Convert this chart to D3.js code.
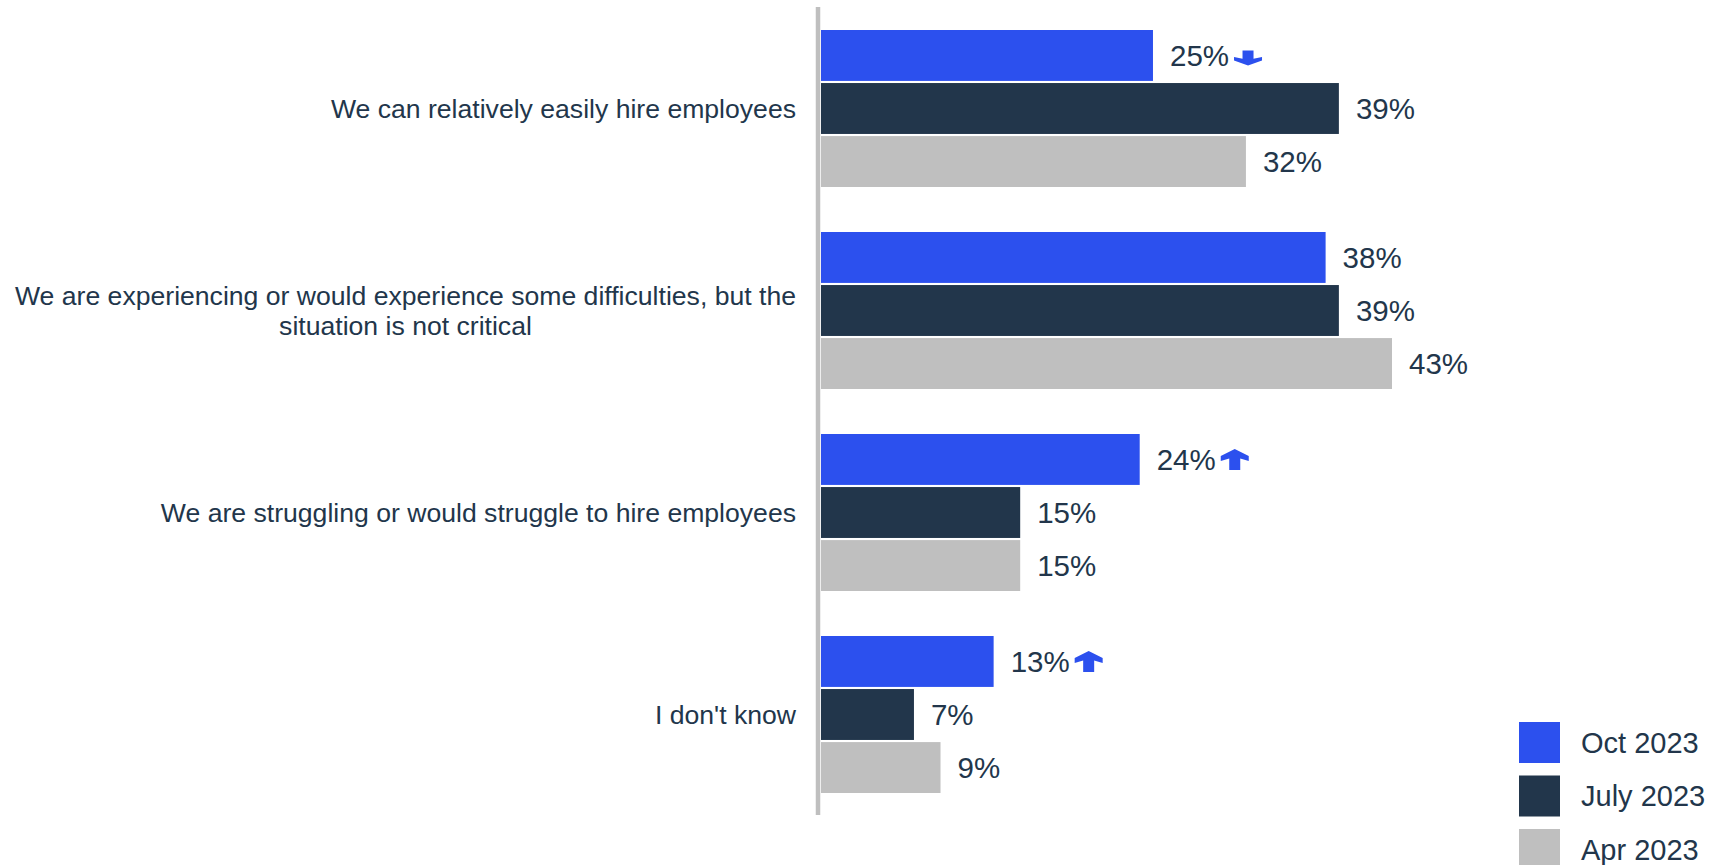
<!DOCTYPE html>
<html>
<head>
<meta charset="utf-8">
<script src="https://cdn.jsdelivr.net/npm/d3@7"></script>
<style>
  html, body { margin: 0; padding: 0; background: #ffffff; }
  svg { display: block; }
  text { font-family: "Liberation Sans", Arial, sans-serif; fill: #22364b; }
</style>
</head>
<body>
<svg id="chart" width="1723" height="865"></svg>
<script>
// Survey answers (one group of bars per answer)
const categories = [
  "We can relatively easily hire employees",
  "We are experiencing or would experience some difficulties, but the\nsituation is not critical",
  "We are struggling or would struggle to hire employees",
  "I don't know"
];
// Survey waves, newest first
const seriesNames = ["Oct 2023", "July 2023", "Apr 2023"];
const oct2023  = [25, 38, 24, 13];
const july2023 = [39, 39, 15, 7];
const apr2023  = [32, 43, 15, 9];
// Change marker on the newest wave: -1 down, 1 up, 0 none
const octTrend = [-1, 0, 1, 1];

const seriesValues = [oct2023, july2023, apr2023];
const colors = ["#2c50ee", "#22364b", "#bfbfbf"];

const svg = d3.select("#chart");

const x = d3.scaleLinear().domain([0, 43]).range([821, 1392]);
const y0 = d3.scaleBand().domain(d3.range(categories.length)).range([30, 793]).paddingInner(0.2228).paddingOuter(0);
const y1 = d3.scaleBand().domain(d3.range(seriesNames.length)).range([0, y0.bandwidth()]).paddingInner(0.04);

// Bars and value labels
categories.forEach((cat, ci) => {
  const g = svg.append("g").attr("transform", `translate(0,${y0(ci)})`);
  seriesValues.forEach((vals, si) => {
    const v = vals[ci];
    const by = y1(si);
    g.append("rect")
      .attr("x", x(0))
      .attr("y", by)
      .attr("width", x(v) - x(0))
      .attr("height", y1.bandwidth())
      .attr("fill", colors[si]);
    const lbl = g.append("text")
      .attr("x", x(v) + 17)
      .attr("y", by + y1.bandwidth() / 2)
      .attr("dy", "0.36em")
      .style("font-size", "29.5px")
      .text(v + "%");
    if (si === 0 && octTrend[ci] !== 0) {
      const endX = x(v) + 17 + lbl.node().getComputedTextLength() + 5;
      const cy = by + y1.bandwidth() / 2;
      const h = 21;
      // upward arrow with a broad chevron head
      const pts = [[14,0],[28,7],[28,12],[19.5,9.5],[19.5,21],[8.5,21],[8.5,9.5],[0,12],[0,7]];
      const dir = octTrend[ci];
      const path = d3.line()(pts.map(([px, py]) => [px, dir > 0 ? py : h - py])) + "Z";
      g.append("path")
        .attr("d", path)
        .attr("fill", colors[0])
        .attr("transform", dir > 0
          ? `translate(${endX},${cy - h / 2})`
          : `translate(${endX},${cy - 5}) scale(1,0.72)`);
    }
  });

  // Category label, right-aligned block, centred lines
  const lines = cat.split("\n");
  const midY = y0(ci) + y0.bandwidth() / 2;
  const lineH = 29.5;
  const t = svg.append("text")
    .attr("text-anchor", "middle")
    .style("font-size", "26.6px");
  lines.forEach((ln, li) => {
    t.append("tspan")
      .attr("y", midY + (li - (lines.length - 1) / 2) * lineH)
      .attr("dy", "0.36em")
      .text(ln);
  });
  let maxW = 0;
  t.selectAll("tspan").each(function() { maxW = Math.max(maxW, this.getComputedTextLength()); });
  t.selectAll("tspan").attr("x", 796 - maxW / 2);
});

// Vertical baseline
svg.append("line")
  .attr("x1", 818).attr("x2", 818)
  .attr("y1", 7).attr("y2", 815)
  .attr("stroke", "#bfbfbf")
  .attr("stroke-width", 4.5);

// Legend
const legend = svg.append("g").attr("transform", "translate(1519,722)");
seriesNames.forEach((name, i) => {
  legend.append("rect")
    .attr("x", 0).attr("y", i * 53.5)
    .attr("width", 41).attr("height", 41)
    .attr("fill", colors[i]);
  legend.append("text")
    .attr("x", 62).attr("y", i * 53.5 + 20.5)
    .attr("dy", "0.36em")
    .style("font-size", "29px")
    .text(name);
});
</script>
</body>
</html>
